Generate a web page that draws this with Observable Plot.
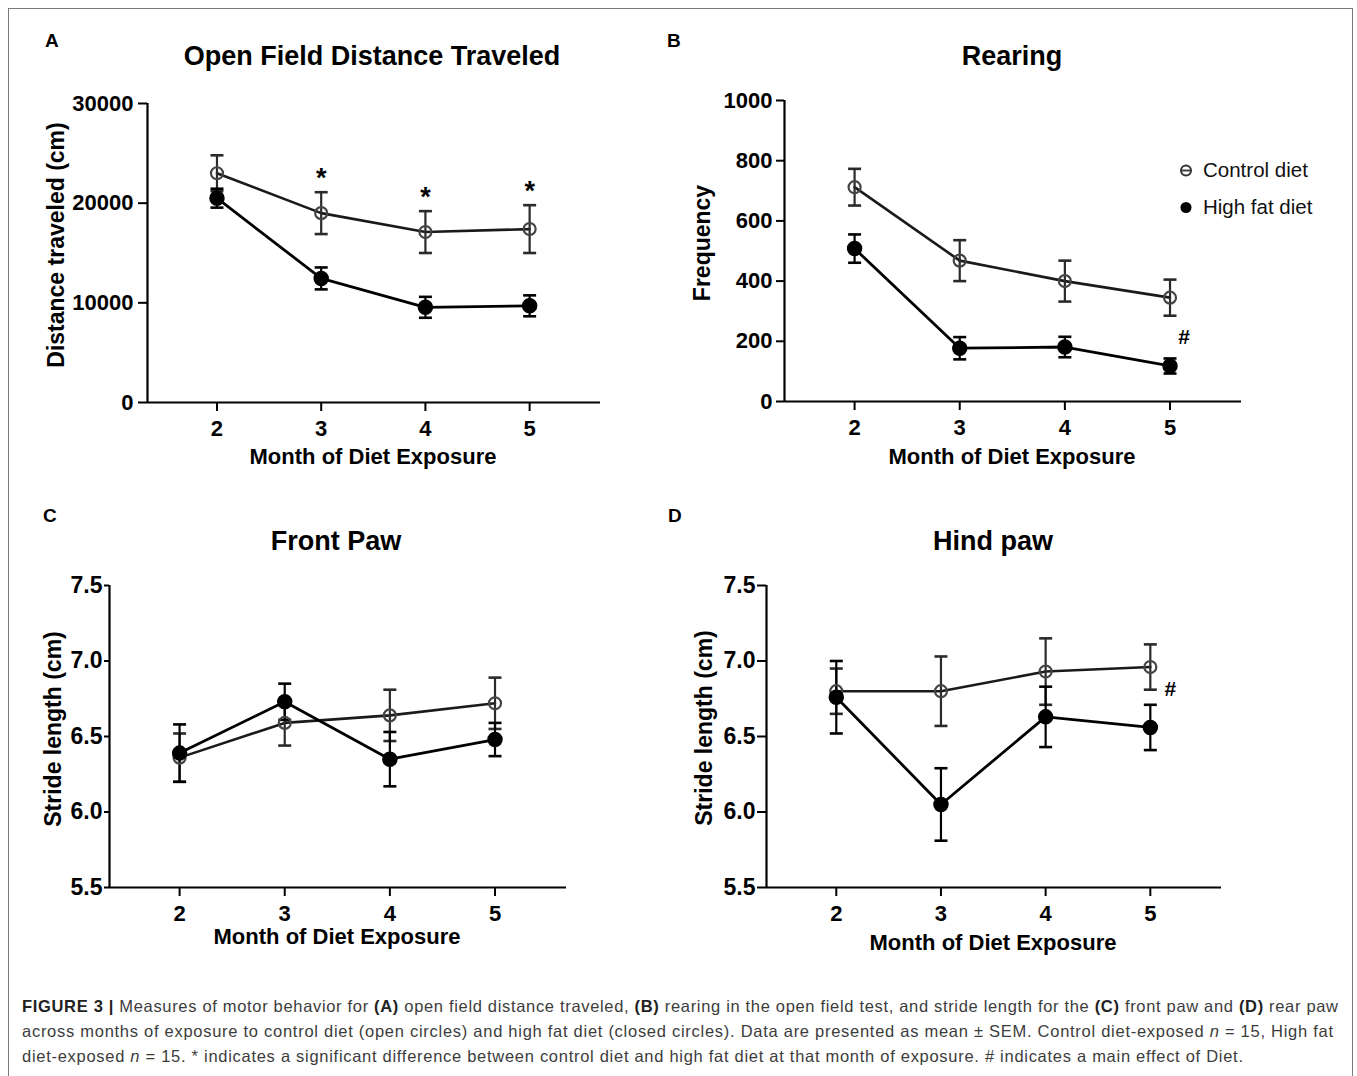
<!DOCTYPE html>
<html>
<head>
<meta charset="utf-8">
<script src="https://cdn.jsdelivr.net/npm/d3@7"></script>
<script src="https://cdn.jsdelivr.net/npm/@observablehq/plot@0.6"></script>
<style>
  html, body { margin: 0; padding: 0; background: #fff; }
  #root { position: relative; width: 1357px; height: 1076px; overflow: hidden; background: #fff; }
  #frame { position: absolute; left: 8px; top: 8px; width: 1345px; height: 1080px; border: 1px solid #7a7a7a; box-sizing: border-box; }
  .plot { position: absolute; }
  #overlay { position: absolute; left: 0; top: 0; }
  #caption { position: absolute; left: 22px; top: 994px; width: 1330px; font-family: 'Liberation Sans', Arial, Helvetica, sans-serif; font-size: 16.5px; color: #3c3c3c; }
  #caption div { height: 25px; line-height: 25px; white-space: nowrap; }
  #caption span { display: inline-block; }
  #caption b { color: #222; }
</style>
</head>
<body>
<div id="root">
  <div id="frame"></div>
</div>
<script>
// ---------------- data ----------------
const months = [2, 3, 4, 5];
const groups = ["Control diet", "High fat diet"];

// (A) Open field distance traveled (cm), mean and SEM
const distControl = [23000, 19000, 17100, 17400];
const distControlSem = [1800, 2100, 2100, 2400];
const distHfd = [20500, 12450, 9550, 9700];
const distHfdSem = [950, 1100, 1050, 1050];
const distTicks = [0, 10000, 20000, 30000];
const starMonthsA = [3, 4, 5];

// (B) Rearing frequency
const rearControl = [712, 468, 400, 345];
const rearControlSem = [61, 68, 68, 60];
const rearHfd = [508, 177, 181, 118];
const rearHfdSem = [47, 37, 34, 25];
const rearTicks = [0, 200, 400, 600, 800, 1000];
const hashB = [{month: 5, value: 212}];

// (C) Front paw stride length (cm)
const frontControl = [6.36, 6.59, 6.64, 6.72];
const frontControlSem = [0.16, 0.15, 0.17, 0.17];
const frontHfd = [6.39, 6.73, 6.35, 6.48];
const frontHfdSem = [0.19, 0.12, 0.18, 0.11];

// (D) Hind paw stride length (cm)
const hindControl = [6.80, 6.80, 6.93, 6.96];
const hindControlSem = [0.15, 0.23, 0.22, 0.15];
const hindHfd = [6.76, 6.05, 6.63, 6.56];
const hindHfdSem = [0.24, 0.24, 0.20, 0.15];
const strideTicks = [5.5, 6.0, 6.5, 7.0, 7.5];
const hashD = [{month: 5, value: 6.81}];

// ---------------- drawing ----------------
const FONT = "'Liberation Sans', Arial, Helvetica, sans-serif";
const xDomain = [4 / 3, 5.68];
const capSymbol = {
  draw(ctx, size) {
    const r = Math.sqrt(size / Math.PI);
    ctx.moveTo(-r, 0);
    ctx.lineTo(r, 0);
  }
};

function rows(mean, sem, group) {
  return months.map((m, i) => ({month: m, mean: mean[i], sem: sem[i], group}));
}

function panel(cfg) {
  const [ax0, ax1, ay0, ay1] = cfg.box;
  const {left, top, width, height} = cfg;
  const ctrl = rows(cfg.control, cfg.controlSem, groups[0]);
  const hfd = rows(cfg.hfd, cfg.hfdSem, groups[1]);
  const yDomain = [cfg.yTicks[0], cfg.yTicks[cfg.yTicks.length - 1]];
  const errMarks = (data, color) => [
    Plot.ruleX(data, {x: "month", y1: d => d.mean - d.sem, y2: d => d.mean + d.sem, stroke: color, strokeWidth: 2.2}),
    Plot.dot(data, {x: "month", y: d => d.mean + d.sem, symbol: capSymbol, r: 6.5, stroke: color, strokeWidth: 2.6}),
    Plot.dot(data, {x: "month", y: d => d.mean - d.sem, symbol: capSymbol, r: 6.5, stroke: color, strokeWidth: 2.6})
  ];
  const marks = [
    Plot.ruleX([xDomain[0]], {stroke: "#000", strokeWidth: 2.2}),
    Plot.ruleY([yDomain[0]], {stroke: "#000", strokeWidth: 2.2}),
    Plot.axisY({ticks: cfg.yTicks, tickFormat: cfg.yFormat, tickSize: cfg.yTickSize, tickPadding: cfg.yTickPadding, strokeWidth: 2, fontSize: cfg.yFontSize, fontWeight: "bold", label: null}),
    Plot.axisX({ticks: months, tickFormat: d => String(d), tickSize: 9, tickPadding: 9, strokeWidth: 2, fontSize: 22, fontWeight: "bold", label: null}),
    Plot.line(ctrl, {x: "month", y: "mean", stroke: "#1a1a1a", strokeWidth: 2.6}),
    Plot.line(hfd, {x: "month", y: "mean", stroke: "#000", strokeWidth: 2.8}),
    ...errMarks(ctrl, "#2a2a2a"),
    ...errMarks(hfd, "#000"),
    Plot.dot(ctrl, {x: "month", y: "mean", r: 6, fill: "none", stroke: "#444", strokeWidth: 2.2}),
    Plot.dot(hfd, {x: "month", y: "mean", r: 7, fill: "#000", stroke: "#000"})
  ];
  if (cfg.stars) {
    const starRows = ctrl.filter(d => cfg.stars.includes(d.month));
    marks.push(Plot.text(starRows, {x: "month", y: d => d.mean + d.sem, text: () => "*", dy: -14, fontSize: 27, fontWeight: "bold", fill: "#000"}));
  }
  if (cfg.hash) {
    marks.push(Plot.text(cfg.hash, {x: "month", y: "value", text: () => "#", dx: cfg.hashDx, fontSize: 21, fontWeight: "bold", fill: "#000"}));
  }
  const svg = Plot.plot({
    width, height,
    marginLeft: ax0 - left,
    marginRight: left + width - ax1,
    marginTop: ay0 - top,
    marginBottom: top + height - ay1,
    x: {type: "linear", domain: xDomain},
    y: {type: "linear", domain: yDomain},
    style: {fontFamily: FONT, fontSize: "22px", fontWeight: "bold", color: "#000", background: "transparent", overflow: "visible"},
    marks
  });
  svg.classList.add("plot");
  svg.style.left = left + "px";
  svg.style.top = top + "px";
  document.getElementById("root").appendChild(svg);
}

panel({box: [147, 600, 103, 402], left: 60, top: 80, width: 580, height: 370,
  yTicks: distTicks, yFormat: d3.format("d"), yTickSize: 9, yTickPadding: 5, yFontSize: 22,
  control: distControl, controlSem: distControlSem, hfd: distHfd, hfdSem: distHfdSem, stars: starMonthsA});
panel({box: [784, 1241, 100, 401], left: 700, top: 80, width: 580, height: 370,
  yTicks: rearTicks, yFormat: d3.format("d"), yTickSize: 8, yTickPadding: 4, yFontSize: 22,
  control: rearControl, controlSem: rearControlSem, hfd: rearHfd, hfdSem: rearHfdSem, hash: hashB, hashDx: 14});
panel({box: [109, 566, 585, 887], left: 20, top: 560, width: 580, height: 370,
  yTicks: strideTicks, yFormat: d3.format(".1f"), yTickSize: 5, yTickPadding: 2, yFontSize: 23,
  control: frontControl, controlSem: frontControlSem, hfd: frontHfd, hfdSem: frontHfdSem});
panel({box: [766, 1221, 585, 887], left: 680, top: 560, width: 580, height: 370,
  yTicks: strideTicks, yFormat: d3.format(".1f"), yTickSize: 9, yTickPadding: 2, yFontSize: 23,
  control: hindControl, controlSem: hindControlSem, hfd: hindHfd, hfdSem: hindHfdSem, hash: hashD, hashDx: 20});

// ---------------- text overlay ----------------
const titles = [
  {x: 372, y: 65, t: "Open Field Distance Traveled"},
  {x: 1012, y: 65, t: "Rearing"},
  {x: 336, y: 550, t: "Front Paw"},
  {x: 993, y: 550, t: "Hind paw"}
];
const letters = [
  {x: 45, y: 47, t: "A"}, {x: 667, y: 47, t: "B"}, {x: 43, y: 522, t: "C"}, {x: 668, y: 522, t: "D"}
];
const xLabels = [
  {x: 373, y: 464}, {x: 1012, y: 464}, {x: 337, y: 944}, {x: 993, y: 950}
];
const yLabels = [
  {x: 64, y: 245, t: "Distance traveled (cm)"},
  {x: 710, y: 243, t: "Frequency"},
  {x: 61, y: 729, t: "Stride length (cm)"},
  {x: 712, y: 728, t: "Stride length (cm)"}
];
let s = `<svg id="overlay" width="1357" height="1076" font-family="${FONT.replace(/'/g, "")}" font-weight="bold" fill="#000">`;
for (const d of titles) s += `<text x="${d.x}" y="${d.y}" text-anchor="middle" font-size="27">${d.t}</text>`;
for (const d of letters) s += `<text x="${d.x}" y="${d.y}" font-size="19">${d.t}</text>`;
for (const d of xLabels) s += `<text x="${d.x}" y="${d.y}" text-anchor="middle" font-size="22">Month of Diet Exposure</text>`;
for (const d of yLabels) s += `<text transform="translate(${d.x},${d.y}) rotate(-90)" text-anchor="middle" font-size="23">${d.t}</text>`;
// legend
s += `<circle cx="1186" cy="170.5" r="5" fill="none" stroke="#333" stroke-width="2"/>`;
s += `<line x1="1182" x2="1190" y1="170.5" y2="170.5" stroke="#333" stroke-width="1.8"/>`;
s += `<circle cx="1186" cy="207.5" r="5.5" fill="#000"/>`;
s += `<text x="1203" y="177" font-size="20.5" font-weight="normal" fill="#111">${groups[0]}</text>`;
s += `<text x="1203" y="214" font-size="20.5" font-weight="normal" fill="#111">${groups[1]}</text>`;
s += `</svg>`;
document.getElementById("root").insertAdjacentHTML("beforeend", s);

// caption
document.getElementById("root").insertAdjacentHTML("beforeend", `
<div id="caption">
<div><span data-w="1316"><b>FIGURE 3 |</b> Measures of motor behavior for <b>(A)</b> open field distance traveled, <b>(B)</b> rearing in the open field test, and stride length for the <b>(C)</b> front paw and <b>(D)</b> rear paw</span></div>
<div><span data-w="1311">across months of exposure to control diet (open circles) and high fat diet (closed circles). Data are presented as mean ± SEM. Control diet-exposed <i>n</i> = 15, High fat</span></div>
<div><span data-w="1221">diet-exposed <i>n</i> = 15. * indicates a significant difference between control diet and high fat diet at that month of exposure. # indicates a main effect of Diet.</span></div>
</div>`);
for (const sp of document.querySelectorAll("#caption span")) {
  const w = sp.getBoundingClientRect().width;
  const n = sp.textContent.length - 1;
  sp.style.letterSpacing = ((+sp.dataset.w - w) / n) + "px";
}
</script>
</body>
</html>
